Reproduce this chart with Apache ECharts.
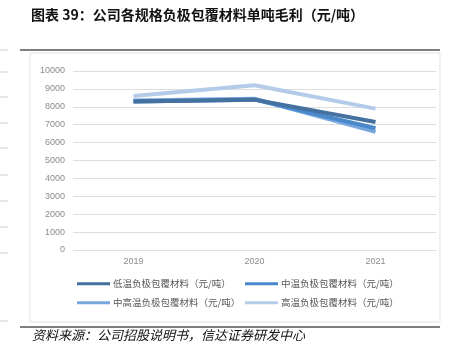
<!DOCTYPE html>
<html>
<head>
<meta charset="utf-8">
<script src="https://cdn.jsdelivr.net/npm/echarts@6/dist/echarts.min.js"></script>
<style>html,body{margin:0;padding:0;background:#fff;}#c{width:452px;height:362px;}</style>
</head>
<body>
<div id="c"></div>
<script>
const categories = ['2019', '2020', '2021'];
const seriesNames = ['低温负极包覆材料（元/吨）', '中温负极包覆材料（元/吨）', '中高温负极包覆材料（元/吨）', '高温负极包覆材料（元/吨）'];
const lowTemp = [8300, 8400, 7150];
const midTemp = [8300, 8400, 6800];
const midHighTemp = [8350, 8450, 6600];
const highTemp = [8600, 9200, 7900];
const yTicks = [0, 1000, 2000, 3000, 4000, 5000, 6000, 7000, 8000, 9000, 10000];
const colors = ['#44719f', '#4a88cc', '#77a7dd', '#b4cce9'];

const chart = echarts.init(document.getElementById('c'));
const font = '"Noto Sans CJK SC", "Liberation Sans", sans-serif';
const numFont = '"Liberation Sans", Arial, sans-serif';
const dataSets = [lowTemp, midTemp, midHighTemp, highTemp];
const legendPos = [[77, 279], [245, 279], [77, 298], [245, 298]];

const edgeTicks = [50, 72, 97, 123, 148, 175, 201, 227, 253, 321];
const graphics = [
  {type: 'line', shape: {x1: 20, y1: 50, x2: 440, y2: 50}, style: {stroke: '#555', lineWidth: 1.5}},
  {type: 'rect', shape: {x: 30, y: 53, width: 410, height: 269}, style: {fill: 'none', stroke: '#e3e3e3', lineWidth: 1}},
  {type: 'line', shape: {x1: 20, y1: 327, x2: 440, y2: 327}, style: {stroke: '#555', lineWidth: 1.5}},
  {type: 'text', left: 32, top: 329, style: {text: '资料来源：公司招股说明书，信达证券研发中心', font: 'italic 13px ' + font, fill: '#111'}}
];
edgeTicks.forEach(y => graphics.push({type: 'line', shape: {x1: 0, y1: y, x2: 8, y2: y}, style: {stroke: '#cfcfcf', lineWidth: 1}}));

chart.setOption({
  animation: false,
  title: {
    text: '图表 39：公司各规格负极包覆材料单吨毛利（元/吨）',
    left: 31, top: 8, padding: 0,
    textStyle: {fontFamily: font, fontSize: 14, fontWeight: 'bold', color: '#111'}
  },
  legend: seriesNames.map((n, i) => ({
    data: [n], left: legendPos[i][0], top: legendPos[i][1], padding: 0,
    icon: 'rect', itemWidth: 33, itemHeight: 3, itemGap: 3,
    textStyle: {fontFamily: font, fontSize: 9.5, color: '#595959', padding: [0, 0, 0, -2]}
  })),
  grid: {left: 73, right: 16, top: 71, bottom: 112},
  xAxis: {
    type: 'category', data: categories, boundaryGap: true,
    axisLine: {show: false}, axisTick: {show: false},
    axisLabel: {color: '#8c8c8c', fontSize: 9, fontFamily: numFont, margin: 7}
  },
  yAxis: {
    type: 'value', min: yTicks[0], max: yTicks[yTicks.length - 1], interval: 1000,
    axisLine: {show: false}, axisTick: {show: false},
    axisLabel: {color: '#8c8c8c', fontSize: 9, fontFamily: numFont, margin: 8, formatter: v => String(v)},
    splitLine: {lineStyle: {color: '#dedede', width: 1.2}}
  },
  series: seriesNames.map((n, i) => ({
    name: n, type: 'line', data: dataSets[i], symbol: 'none',
    lineStyle: {width: 4, color: colors[i]}, itemStyle: {color: colors[i]},
    z: 10 - i
  })),
  graphic: graphics
});
</script>
</body>
</html>
